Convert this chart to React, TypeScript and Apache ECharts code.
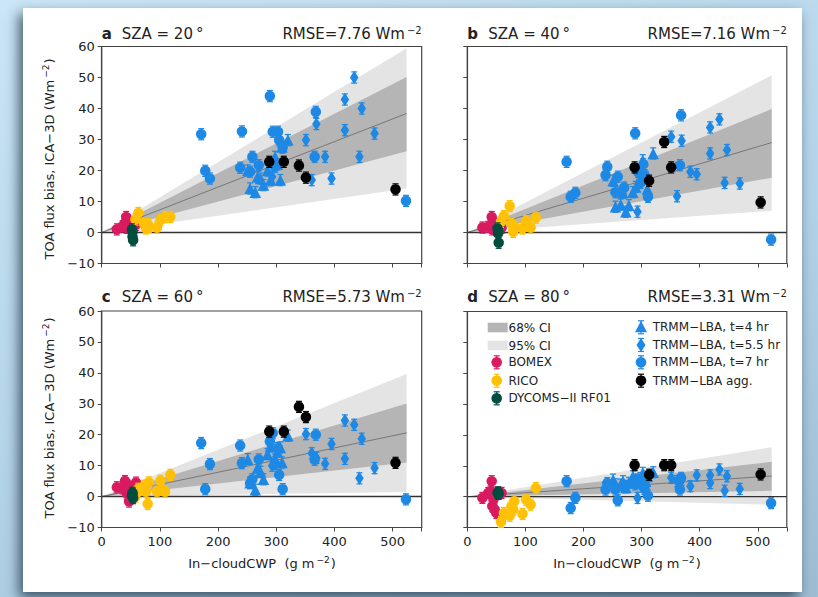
import React, { useEffect, useRef } from "react";
import * as echarts from "echarts";

// ---------- data ----------
const panelLetters = ["a", "b", "c", "d"];
const szaValues = [20, 40, 60, 80];
const rmseValues = ["7.76", "7.16", "5.73", "3.31"];

const xTicks = [0, 100, 200, 300, 400, 500];
const yTicks = [-10, 0, 10, 20, 30, 40, 50, 60];

// fit / confidence fan (value at x = fitEndX, all start at origin)
const fitEndX = 524;
const fitY = [38.4, 29.0, 20.6, 6.7];
const ci68Lo = [26.2, 17.7, 11.0, 1.9];
const ci68Hi = [50.2, 39.8, 30.1, 11.3];
const ci95Lo = [14.2, 7.0, 1.5, -2.6];
const ci95Hi = [59.4, 50.7, 39.6, 16.0];

const errorHalf = 1.8;

// BOMEX
const bomexX = [26, 36, 40, 42, 43, 45, 47, 50, 55, 59];
const bomexY20 = [1.0, 2.0, 3.0, 5.0, 1.5, 4.0, 2.0, 1.0, 3.0, 2.5];
const bomexY40 = [1.6, 1.8, 2.2, 5.0, 1.0, 3.4, 1.2, 0.8, 2.4, 1.5];
const bomexY60 = [3.0, 2.7, 5.0, 4.1, 1.0, 3.5, -1.6, 1.6, 1.1, 4.5];
const bomexY80 = [-0.4, 1.2, 1.7, 5.0, -3.1, -1.0, -4.2, -5.3, 1.2, 1.2];

// RICO
const ricoX = [58, 63, 73, 76, 79, 81, 95, 101, 109, 118];
const ricoY20 = [4.2, 6.3, 2.7, 1.3, 2.7, 1.8, 1.6, 4.0, 5.0, 5.0];
const ricoY40 = [3.4, 5.3, 8.5, 2.7, 0.2, 1.8, 1.3, 3.7, 1.6, 4.8];
const ricoY60 = [0.0, 2.5, 3.5, 1.6, -2.4, 4.6, 1.6, 5.1, 1.6, 7.0];
const ricoY80 = [-8.2, -5.3, -6.2, -3.1, -4.2, -1.5, -5.6, -1.0, -2.6, 2.8];

// DYCOMS-II RF01
const dycomsX = [52, 53, 53, 54];
const dycomsY20 = [1.0, 0.2, -1.4, -2.5];
const dycomsY40 = [1.3, 0.5, -0.3, -3.3];
const dycomsY60 = [0.2, 0.8, 1.2, -0.5];
const dycomsY80 = [1.2, 1.0, 1.4, 0.9];

// TRMM-LBA t=4 hr (triangles)
const t4X = [251, 255, 264, 268, 273, 278, 285, 290, 298, 302, 307, 310, 320];
const t4Y20 = [20.0, 14.2, 13.0, 18.0, 17.4, 15.3, 20.0, 16.9, 24.4, 22.0, 16.9, 27.6, 29.8];
const t4Y40 = [16.7, 8.3, 9.0, 12.8, 6.7, 8.8, 13.0, 14.7, 20.0, 23.3, 18.0, 14.0, 25.5];
const t4Y60 = [12.1, 4.5, 2.2, 9.4, 8.0, 5.6, 13.7, 16.2, 12.0, 14.5, 15.9, 11.0, 19.7];
const t4Y80 = [5.5, 4.0, 3.9, 5.0, 3.0, 4.5, 6.6, 5.5, 6.0, 7.7, 5.0, 6.5, 7.9];

// TRMM-LBA t=5.5 hr (diamonds)
const t55X = [293, 351, 361, 369, 384, 395, 418, 418, 434, 443, 447, 469];
const t55Y20 = [18.0, 29.8, 16.9, 35.0, 24.4, 17.4, 42.9, 33.0, 50.0, 24.4, 40.0, 31.9];
const t55Y40 = [6.7, 30.9, 11.7, 29.6, 19.6, 18.8, 33.9, 25.5, 36.5, 16.0, 26.6, 15.8];
const t55Y60 = [10.0, 20.2, 14.0, 12.5, 10.6, 17.0, 24.6, 12.2, 23.2, 5.9, 18.7, 9.2];
const t55Y80 = [-0.4, 6.1, 5.0, 5.5, 3.4, 6.9, 6.9, 4.4, 8.8, 1.9, 6.6, 2.5];

// TRMM-LBA t=7 hr (circles)
const t7X = [171, 178, 186, 238, 241, 255, 259, 270, 289, 294, 298, 303, 305, 311, 366, 368, 523];
const t7Y20 = [31.7, 19.9, 17.4, 20.9, 32.6, 19.6, 24.4, 21.7, 44.0, 32.5, 21.2, 32.5, 29.8, 27.4, 24.4, 38.9, 10.2];
const t7Y40 = [22.8, 11.5, 12.8, 18.5, 21.2, 13.0, 18.0, 14.5, 32.0, 19.5, 16.0, 22.0, 18.5, 11.5, 21.7, 37.8, -2.3];
const t7Y60 = [17.3, 2.4, 10.5, 16.5, 10.8, 4.3, 5.6, 12.0, 17.8, 20.5, 10.5, 15.7, 7.0, 2.4, 11.9, 20.0, -0.9];
const t7Y80 = [5.0, -3.7, -0.4, 2.3, 4.4, 2.3, -1.2, 3.4, 4.0, 5.5, 4.5, 3.4, 2.5, 0.3, 2.3, 6.1, -2.1];

// TRMM-LBA aggregate (black)
const aggX = [288, 313, 339, 351, 505];
const aggY20 = [22.8, 22.8, 21.6, 17.7, 13.9];
const aggY40 = [21.0, 16.7, 29.2, 21.0, 9.7];
const aggY60 = [21.0, 21.0, 29.0, 25.7, 10.9];
const aggY80 = [10.2, 7.1, 10.2, 10.2, 7.2];

// ---------- styling ----------
const FONT = "DejaVu Sans";
const C_BOMEX = "#d81b60";
const C_RICO = "#ffc107";
const C_DYCOMS = "#004d40";
const C_BLUE = "#1e88e5";
const C_BLACK = "#000000";
const C_CI68 = "#b5b5b5";
const C_CI95 = "#e4e4e4";

const grids = [
  { left: 101.7, top: 46.5, width: 320, height: 217 },
  { left: 467.3, top: 46.5, width: 319.5, height: 217 },
  { left: 101.7, top: 311, width: 320, height: 216.5 },
  { left: 467.3, top: 311.5, width: 319.5, height: 216 },
];

const datasets = [
  { name: "BOMEX", x: bomexX, ys: [bomexY20, bomexY40, bomexY60, bomexY80], color: C_BOMEX, symbol: "circle", size: 10.5 },
  { name: "RICO", x: ricoX, ys: [ricoY20, ricoY40, ricoY60, ricoY80], color: C_RICO, symbol: "circle", size: 10.5 },
  { name: "DYCOMS-II RF01", x: dycomsX, ys: [dycomsY20, dycomsY40, dycomsY60, dycomsY80], color: C_DYCOMS, symbol: "circle", size: 10.5 },
  { name: "TRMM-LBA, t=4 hr", x: t4X, ys: [t4Y20, t4Y40, t4Y60, t4Y80], color: C_BLUE, symbol: "triangle", size: 11.5 },
  { name: "TRMM-LBA, t=5.5 hr", x: t55X, ys: [t55Y20, t55Y40, t55Y60, t55Y80], color: C_BLUE, symbol: "diamond", size: [8.5, 13.5] },
  { name: "TRMM-LBA, t=7 hr", x: t7X, ys: [t7Y20, t7Y40, t7Y60, t7Y80], color: C_BLUE, symbol: "circle", size: 10.5 },
  { name: "TRMM-LBA agg.", x: aggX, ys: [aggY20, aggY40, aggY60, aggY80], color: C_BLACK, symbol: "circle", size: 10.5 },
];

function errorBarRender(color: string) {
  return (params: any, api: any) => {
    const x = api.value(0);
    const y = api.value(1);
    const t = api.coord([x, y + errorHalf]);
    const b = api.coord([x, y - errorHalf]);
    const st = { stroke: color, lineWidth: 1.2 };
    return {
      type: "group",
      children: [
        { type: "line", shape: { x1: t[0], y1: t[1], x2: b[0], y2: b[1] }, style: st },
        { type: "line", shape: { x1: t[0] - 3, y1: t[1], x2: t[0] + 3, y2: t[1] }, style: st },
        { type: "line", shape: { x1: b[0] - 3, y1: b[1], x2: b[0] + 3, y2: b[1] }, style: st },
      ],
    };
  };
}

function bandRender(params: any, api: any) {
  const xe = api.value(0);
  const o = api.coord([0, 0]);
  return {
    type: "group",
    children: [
      {
        type: "polygon",
        shape: { points: [o, api.coord([xe, api.value(2)]), api.coord([xe, api.value(1)])] },
        style: { fill: C_CI95 },
      },
      {
        type: "polygon",
        shape: { points: [o, api.coord([xe, api.value(4)]), api.coord([xe, api.value(3)])] },
        style: { fill: C_CI68 },
      },
    ],
  };
}

const supRich = {
  m: { fontSize: 15, fontFamily: FONT, fill: "#222", lineHeight: 18 },
  s: { fontSize: 10, fontFamily: FONT, fill: "#222", lineHeight: 10, verticalAlign: "top", padding: [0, 0, 0, 2] },
};
const labRich = {
  m: { fontSize: 13, fontFamily: FONT, fill: "#222", lineHeight: 16 },
  s: { fontSize: 9, fontFamily: FONT, fill: "#222", lineHeight: 9, verticalAlign: "top", padding: [0, 1, 0, 2] },
};

function buildOption() {
  const xAxes: any[] = [];
  const yAxes: any[] = [];
  const series: any[] = [];
  const graphic: any[] = [];

  grids.forEach((g, i) => {
    const bottomRow = i >= 2;
    const leftCol = i % 2 === 0;
    xAxes.push({
      gridIndex: i,
      type: "value",
      min: 0,
      max: 550,
      interval: 100,
      splitLine: { show: false },
      axisLine: { show: true, onZero: false, lineStyle: { color: "#444", width: 1.2 } },
      axisTick: { show: true, inside: false, length: 4, lineStyle: { color: "#444" } },
      axisLabel: {
        show: bottomRow,
        margin: 7,
        fontFamily: FONT,
        fontSize: 13,
        color: "#222",
        formatter: (v: number) => (xTicks.includes(v) ? String(v) : ""),
      },
    });
    yAxes.push({
      gridIndex: i,
      type: "value",
      min: -10,
      max: 60,
      interval: 10,
      splitLine: { show: false },
      axisLine: { show: true, onZero: false, lineStyle: { color: "#444", width: 1.2 } },
      axisTick: { show: true, inside: false, length: 4, lineStyle: { color: "#444" } },
      axisLabel: {
        show: leftCol,
        margin: 7,
        fontFamily: FONT,
        fontSize: 13,
        color: "#222",
        formatter: (v: number) => (yTicks.includes(v) ? (v < 0 ? "\u2212" + Math.abs(v) : String(v)) : ""),
      },
    });

    // CI bands
    series.push({
      type: "custom",
      xAxisIndex: i,
      yAxisIndex: i,
      renderItem: bandRender,
      data: [[fitEndX, ci95Lo[i], ci95Hi[i], ci68Lo[i], ci68Hi[i]]],
      encode: { x: 0, y: [1, 2] },
      silent: true,
      z: 1,
    });
    // fit line
    series.push({
      type: "line",
      xAxisIndex: i,
      yAxisIndex: i,
      data: [[0, 0], [fitEndX, fitY[i]]],
      symbol: "none",
      lineStyle: { color: "#777", width: 1 },
      silent: true,
      z: 2,
    });
    // zero line
    series.push({
      type: "line",
      xAxisIndex: i,
      yAxisIndex: i,
      data: [[0, 0], [550, 0]],
      symbol: "none",
      lineStyle: { color: "#333", width: 1.4 },
      silent: true,
      z: 2,
    });

    datasets.forEach((d, k) => {
      const pts = d.x.map((xv, j) => [xv, d.ys[i][j]]);
      series.push({
        type: "custom",
        name: d.name,
        xAxisIndex: i,
        yAxisIndex: i,
        renderItem: errorBarRender(d.color),
        data: pts,
        encode: { x: 0, y: 1 },
        z: 3 + k * 2,
      });
      series.push({
        type: "scatter",
        name: d.name,
        xAxisIndex: i,
        yAxisIndex: i,
        data: pts,
        symbol: d.symbol,
        symbolSize: d.size,
        itemStyle: { color: d.color, opacity: 1 },
        z: 4 + k * 2,
      });
    });

    // panel titles
    const ty = i < 2 ? 34 : 297;
    graphic.push({
      type: "text",
      x: g.left,
      y: ty,
      style: { text: panelLetters[i], font: `bold 15px "${FONT}"`, fill: "#222", verticalAlign: "middle", align: "left" },
    });
    graphic.push({
      type: "text",
      x: g.left + (leftCol ? 20 : 21),
      y: ty,
      style: { text: `SZA = ${szaValues[i]}\u2009\u00b0`, font: `15px "${FONT}"`, fill: "#222", verticalAlign: "middle", align: "left" },
    });
    graphic.push({
      type: "text",
      x: g.left + g.width,
      y: ty,
      style: {
        text: `{m|RMSE=${rmseValues[i]} Wm}{s|\u22122}`,
        rich: supRich,
        align: "right",
        verticalAlign: "middle",
      },
    });
  });

  // y-axis names
  [159, 418].forEach((cy) => {
    graphic.push({
      type: "text",
      x: 49,
      y: cy,
      rotation: Math.PI / 2,
      style: {
        text: "{m|TOA flux bias, ICA\u22123D (Wm}{s|\u22122}{m|)}",
        rich: labRich,
        align: "center",
        verticalAlign: "middle",
      },
    });
  });
  // x-axis names
  [262, 627].forEach((cx) => {
    graphic.push({
      type: "text",
      x: cx,
      y: 563,
      style: {
        text: "{m|In\u2212cloudCWP  (g m}{s|\u22122}{m|)}",
        rich: labRich,
        align: "center",
        verticalAlign: "middle",
      },
    });
  });

  // legend in panel d
  const lt = { font: `12px "${FONT}"`, fill: "#222", verticalAlign: "middle", align: "left" };
  graphic.push({ type: "rect", shape: { x: 487.7, y: 322.7, width: 20, height: 9.6 }, style: { fill: C_CI68 } });
  graphic.push({ type: "text", x: 508.5, y: 327.5, style: { ...lt, text: "68% CI" } });
  graphic.push({ type: "rect", shape: { x: 487.7, y: 340.7, width: 20, height: 9.6 }, style: { fill: C_CI95 } });
  graphic.push({ type: "text", x: 508.5, y: 345.7, style: { ...lt, text: "95% CI" } });

  const legendItems = [
    { cx: 496.7, cy: 362.3, color: C_BOMEX, shape: "circle", label: "BOMEX" },
    { cx: 496.7, cy: 380.7, color: C_RICO, shape: "circle", label: "RICO" },
    { cx: 496.7, cy: 398.3, color: C_DYCOMS, shape: "circle", label: "DYCOMS\u2212II RF01" },
    { cx: 641, cy: 327.3, color: C_BLUE, shape: "triangle", label: "TRMM\u2212LBA, t=4 hr" },
    { cx: 641, cy: 345, color: C_BLUE, shape: "diamond", label: "TRMM\u2212LBA, t=5.5 hr" },
    { cx: 641, cy: 362.3, color: C_BLUE, shape: "circle", label: "TRMM\u2212LBA, t=7 hr" },
    { cx: 641, cy: 380.7, color: C_BLACK, shape: "circle", label: "TRMM\u2212LBA agg." },
  ];
  legendItems.forEach((it) => {
    const st = { stroke: it.color, lineWidth: 1.2 };
    graphic.push({ type: "line", shape: { x1: it.cx, y1: it.cy - 6.5, x2: it.cx, y2: it.cy + 6.5 }, style: st });
    graphic.push({ type: "line", shape: { x1: it.cx - 3, y1: it.cy - 6.5, x2: it.cx + 3, y2: it.cy - 6.5 }, style: st });
    graphic.push({ type: "line", shape: { x1: it.cx - 3, y1: it.cy + 6.5, x2: it.cx + 3, y2: it.cy + 6.5 }, style: st });
    if (it.shape === "circle") {
      graphic.push({ type: "circle", shape: { cx: it.cx, cy: it.cy, r: 5.3 }, style: { fill: it.color } });
    } else if (it.shape === "triangle") {
      graphic.push({
        type: "polygon",
        shape: { points: [[it.cx, it.cy - 6.5], [it.cx + 6, it.cy + 5], [it.cx - 6, it.cy + 5]] },
        style: { fill: it.color },
      });
    } else {
      graphic.push({
        type: "polygon",
        shape: { points: [[it.cx, it.cy - 7], [it.cx + 4.5, it.cy], [it.cx, it.cy + 7], [it.cx - 4.5, it.cy]] },
        style: { fill: it.color },
      });
    }
    graphic.push({ type: "text", x: it.cx + 11.7, y: it.cy, style: { ...lt, text: it.label } });
  });

  return {
    animation: false,
    backgroundColor: "transparent",
    grid: grids.map((g) => ({ ...g, show: true, borderColor: "#444", borderWidth: 1.2, backgroundColor: "transparent" })),
    xAxis: xAxes,
    yAxis: yAxes,
    series,
    graphic: { elements: graphic },
  };
}

export default function App() {
  const ref = useRef<HTMLDivElement>(null);
  useEffect(() => {
    if (!ref.current) return;
    const chart = echarts.init(ref.current, undefined, { renderer: "svg", width: 818, height: 597 });
    chart.setOption(buildOption() as any);
    return () => chart.dispose();
  }, []);
  return (
    <div
      style={{
        position: "fixed",
        left: 0,
        top: 0,
        width: 818,
        height: 597,
        overflow: "hidden",
        background: "linear-gradient(160deg, #cbe6f6 0%, #b3d3e8 55%, #9ebdd3 100%)",
      }}
    >
      <div
        style={{
          position: "absolute",
          left: 23,
          top: 8,
          width: 779,
          height: 584,
          background: "#ffffff",
          boxShadow: "-4px 6px 12px rgba(35,55,75,0.8)",
        }}
      />
      <div ref={ref} style={{ position: "absolute", left: 0, top: 0, width: 818, height: 597 }} />
    </div>
  );
}
